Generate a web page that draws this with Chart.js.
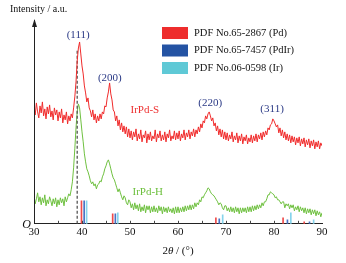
<!DOCTYPE html>
<html>
<head>
<meta charset="utf-8">
<script src="https://cdn.jsdelivr.net/npm/chart.js@4.4.1/dist/chart.umd.min.js"></script>
<style>
  html, body { margin: 0; padding: 0; background: #fff; }
  #wrap { width: 346px; height: 263px; }
</style>
</head>
<body>
<div id="wrap"><canvas id="xrd"></canvas></div>
<script>
// 2theta grid, 0.25 deg steps (30 .. 90)
const twoTheta = [];
for (let i = 0; i <= 240; i++) twoTheta.push(30 + i * 0.25);

// IrPd-S (red), one row = 5 deg
const irpdS = [
  117,109,121,112,106,118,111,122,108,115,105,117,110,119,107,113,104,116,109,114,
  103,112,106,115,101,109,104,112,100,108,103,110,106,116,127,142,163,176,182,170,
  158,150,138,131,122,126,116,113,107,114,104,110,101,108,103,110,105,112,110,118,
  117,126,132,141,130,124,114,112,103,108,98,104,94,101,92,98,90,97,87,95,
  86,93,84,92,87,95,83,90,85,94,82,89,86,93,81,90,84,92,83,88,
  85,94,82,90,86,93,83,89,84,92,82,90,86,94,83,88,85,93,84,91,
  85,93,83,90,86,94,84,91,87,94,85,92,88,95,87,94,90,97,92,100,
  96,103,101,108,105,110,112,108,103,106,98,101,93,98,89,95,87,94,85,92,
  84,91,83,89,85,92,82,88,84,91,81,88,83,90,80,87,83,89,80,86,
  82,89,81,88,83,90,82,89,85,91,84,92,87,93,89,96,94,99,100,105,
  103,100,97,99,91,96,88,94,86,92,84,90,83,89,81,88,82,87,79,86,
  81,87,78,85,80,86,77,84,79,85,76,83,78,84,75,82,77,83,75,81,
  78];

// IrPd-H (green)
const irpdH = [
  28,20,25,31,22,27,19,26,21,29,18,24,20,27,23,18,25,20,26,17,
  24,19,26,21,25,18,27,22,26,30,28,34,42,56,75,96,112,120,116,104,
  92,82,70,62,55,52,48,43,40,42,38,40,35,39,40,43,42,47,50,55,
  58,62,64,60,55,50,46,44,40,36,32,35,31,27,24,28,26,21,19,24,
  22,16,20,14,21,15,19,13,20,12,17,13,19,11,18,14,18,11,17,12,
  18,12,16,11,18,13,17,10,17,12,16,11,17,12,15,11,16,10,17,11,
  17,11,16,12,17,12,18,13,18,14,19,14,19,15,21,17,21,19,24,22,
  27,26,29,31,33,36,35,32,30,29,28,26,24,22,19,21,20,16,14,18,
  18,13,16,12,17,12,16,11,17,12,16,10,16,11,16,12,16,11,17,12,
  17,12,18,13,18,14,19,15,19,16,21,18,22,22,25,29,29,32,31,30,
  29,26,27,24,24,22,20,22,22,16,20,18,20,15,19,16,19,13,17,14,
  18,12,17,13,16,11,16,10,15,11,15,9,14,10,14,8,13,9,12,7,
  11];

// reference patterns (PDF cards)
const pdPos = [40.1, 46.6, 68.1, 82.1, 86.5];
const pdInt = [23, 10, 6, 6, 2];
const pdirPos = [40.45, 46.95, 68.6, 82.8, 87.4];
const pdirInt = [23, 10, 5, 4, 2];
const irPos = [40.75, 47.25, 69.1, 83.3, 88.05];
const irInt = [23, 11, 9, 11, 4];

const legendNames = ["PDF No.65-2867 (Pd)", "PDF No.65-7457 (PdIr)", "PDF No.06-0598 (Ir)"];
const legendColors = ["#ee2d2d", "#2453a3", "#5fc9d6"];

const hklLabels = ["(111)", "(200)", "(220)", "(311)"];
const hklX = [39.2, 45.8, 66.7, 79.6];
const hklY = [189, 146, 121, 115];

const xTicks = [30, 40, 50, 60, 70, 80, 90];
const dashX = 39;
const dashTop = 174;

const serif = "'Liberation Serif', 'DejaVu Serif', serif";

function pts(xs, ys) {
  return xs.map((x, i) => ({ x: x, y: ys[i] }));
}

const annotate = {
  id: "annotate",
  afterDraw(chart) {
    const ctx = chart.ctx;
    const xs = chart.scales.x;
    const ys = chart.scales.y;
    const area = chart.chartArea;
    ctx.save();

    // y axis with arrow
    ctx.strokeStyle = "#222";
    ctx.fillStyle = "#222";
    ctx.lineWidth = 1;
    ctx.beginPath();
    ctx.moveTo(area.left + 0.5, area.bottom);
    ctx.lineTo(area.left + 0.5, area.top);
    ctx.stroke();
    ctx.beginPath();
    ctx.moveTo(area.left + 0.5, area.top - 1);
    ctx.lineTo(area.left - 2, area.top + 7);
    ctx.lineTo(area.left + 3, area.top + 7);
    ctx.closePath();
    ctx.fill();

    // inward ticks every 5 deg
    ctx.strokeStyle = "#444";
    for (let t = 35; t < 90; t += 5) {
      const px = Math.round(xs.getPixelForValue(t)) + 0.5;
      ctx.beginPath();
      ctx.moveTo(px, area.bottom);
      ctx.lineTo(px, area.bottom - 3);
      ctx.stroke();
    }

    // texts
    ctx.fillStyle = "#111";
    ctx.font = "10px " + serif;
    ctx.textBaseline = "middle";
    ctx.textAlign = "left";
    ctx.fillText("Intensity / a.u.", 10, 9);

    ctx.font = "italic 12px " + serif;
    ctx.textAlign = "right";
    ctx.fillText("O", area.left - 3, area.bottom + 1);

    // x title 2θ / (°)
    ctx.textAlign = "left";
    const p1 = "2", p2 = "\u03b8", p3 = " / (\u00b0)";
    ctx.font = "11px " + serif;
    const w1 = ctx.measureText(p1).width;
    const w3 = ctx.measureText(p3).width;
    ctx.font = "italic 11px " + serif;
    const w2 = ctx.measureText(p2).width;
    const tx = (xs.getPixelForValue(30) + xs.getPixelForValue(90)) / 2 - (w1 + w2 + w3) / 2;
    const ty = 251;
    ctx.font = "11px " + serif;
    ctx.fillText(p1, tx, ty);
    ctx.font = "italic 11px " + serif;
    ctx.fillText(p2, tx + w1, ty);
    ctx.font = "11px " + serif;
    ctx.fillText(p3, tx + w1 + w2, ty);

    // hkl labels
    ctx.fillStyle = "#2b3a86";
    ctx.textAlign = "center";
    ctx.font = "11px " + serif;
    hklLabels.forEach((s, i) => {
      ctx.fillText(s, xs.getPixelForValue(hklX[i]), ys.getPixelForValue(hklY[i]));
    });

    // sample labels
    ctx.fillStyle = "#ee3030";
    ctx.fillText("IrPd-S", xs.getPixelForValue(53.1), ys.getPixelForValue(114));
    ctx.fillStyle = "#6cbf3c";
    ctx.fillText("IrPd-H", xs.getPixelForValue(53.7), ys.getPixelForValue(32));

    // legend
    ctx.textAlign = "left";
    ctx.font = "10.5px " + serif;
    legendNames.forEach((s, i) => {
      const y0 = 27 + i * 17.5;
      ctx.fillStyle = legendColors[i];
      ctx.fillRect(162, y0, 26, 12);
      ctx.fillStyle = "#111";
      ctx.fillText(s, 194, y0 + 6);
    });
    ctx.restore();
  }
};

new Chart(document.getElementById("xrd"), {
  type: "line",
  data: {
    datasets: [
      {
        label: "IrPd-S",
        data: pts(twoTheta, irpdS),
        borderColor: "#f02b2b",
        borderWidth: 1,
        pointRadius: 0,
        tension: 0
      },
      {
        label: "dash",
        data: [{ x: dashX, y: 0 }, { x: dashX, y: dashTop }],
        borderColor: "#555",
        borderWidth: 1.3,
        borderDash: [3, 2],
        pointRadius: 0
      },
      {
        label: "IrPd-H",
        data: pts(twoTheta, irpdH),
        borderColor: "#6fc040",
        borderWidth: 1,
        pointRadius: 0,
        tension: 0
      },
      {
        type: "bar",
        label: legendNames[0],
        data: pts(pdPos, pdInt),
        backgroundColor: "#ef4a4a",
        barThickness: 1
      },
      {
        type: "bar",
        label: legendNames[1],
        data: pts(pdirPos, pdirInt),
        backgroundColor: "#4a72c4",
        barThickness: 1
      },
      {
        type: "bar",
        label: legendNames[2],
        data: pts(irPos, irInt),
        backgroundColor: "#86d4ec",
        barThickness: 1
      }
    ]
  },
  options: {
    responsive: true,
    maintainAspectRatio: false,
    animation: false,
    layout: { padding: { left: 34, right: 24, top: 20, bottom: 22 } },
    plugins: { legend: { display: false }, tooltip: { enabled: false } },
    scales: {
      x: {
        type: "linear",
        min: 30,
        max: 90,
        offset: false,
        afterBuildTicks: (s) => { s.ticks = xTicks.map(v => ({ value: v })); },
        ticks: { font: { family: serif, size: 11 }, color: "#111", padding: 2 },
        grid: { drawOnChartArea: false, drawTicks: false },
        border: { display: true, color: "#222", width: 1 }
      },
      y: {
        display: false,
        min: 0,
        max: 204
      }
    }
  },
  plugins: [annotate]
});
</script>
</body>
</html>
